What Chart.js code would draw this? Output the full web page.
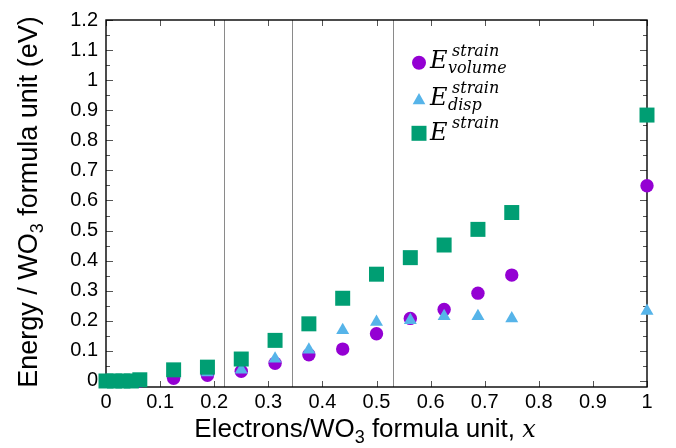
<!DOCTYPE html>
<html>
<head>
<meta charset="utf-8">
<script src="https://cdn.jsdelivr.net/npm/chart.js"></script>
<style>
  body { margin: 0; background: #fff; }
</style>
</head>
<body>
<canvas id="myChart" width="676" height="448"></canvas>
<script>
// electrons per WO3 formula unit
const xValues = [0, 0.015625, 0.03125, 0.046875, 0.0625, 0.125, 0.1875, 0.25, 0.3125, 0.375, 0.4375, 0.5, 0.5625, 0.625, 0.6875, 0.75, 1];
const eVolume = [0, 0, 0, 0, 0, 0.009, 0.019, 0.032, 0.059, 0.087, 0.106, 0.157, 0.208, 0.238, 0.292, 0.352, 0.649];
const eDisp   = [0, 0, 0, 0, 0, 0.027, 0.028, 0.037, 0.074, 0.104, 0.169, 0.196, 0.202, 0.215, 0.215, 0.208, 0.233];
const eTotal  = [0, 0, 0, 0, 0.004, 0.037, 0.046, 0.073, 0.135, 0.19, 0.275, 0.355, 0.41, 0.452, 0.504, 0.56, 0.884];

const xTicks = [0, 0.1, 0.2, 0.3, 0.4, 0.5, 0.6, 0.7, 0.8, 0.9, 1];
const xTickLabels = ['0', '0.1', '0.2', '0.3', '0.4', '0.5', '0.6', '0.7', '0.8', '0.9', '1'];
const yTicks = [0, 0.1, 0.2, 0.3, 0.4, 0.5, 0.6, 0.7, 0.8, 0.9, 1, 1.1, 1.2];
const yTickLabels = ['0', '0.1', '0.2', '0.3', '0.4', '0.5', '0.6', '0.7', '0.8', '0.9', '1', '1.1', '1.2'];
const yMinorTicks = [0.05, 0.15, 0.25, 0.35, 0.45, 0.55, 0.65, 0.75, 0.85, 0.95, 1.05, 1.15];
const phaseLines = [7 / 32, 11 / 32, 17 / 32];

const legendSup = ['strain', 'strain', 'strain'];
const legendSub = ['volume', 'disp', ''];

const purple = '#9400d3';
const blue = '#56b4e9';
const green = '#009e73';

const sans = '"Liberation Sans", Arial, sans-serif';
const serifIt = '"DejaVu Serif", serif';

function toPoints(ys) {
    return xValues.map((x, i) => ({x: x, y: ys[i]}));
}

// draw a run of text pieces, each {t, font, dy}
function textWidth(ctx, parts) {
    let w = 0;
    for (let p of parts) {
        ctx.font = p.font;
        w += ctx.measureText(p.t).width;
    }
    return w;
}
function drawParts(ctx, parts, x, y) {
    for (let p of parts) {
        ctx.font = p.font;
        ctx.fillText(p.t, x, y + (p.dy || 0));
        x += ctx.measureText(p.t).width;
    }
}

const framePlugin = {
    id: 'frame',
    beforeDatasetsDraw(chart) {
        const ctx = chart.ctx;
        const a = chart.chartArea;
        const xs = chart.scales.x, ys = chart.scales.y;
        ctx.save();
        // vertical phase lines
        ctx.strokeStyle = '#8a8a8a';
        ctx.lineWidth = 1;
        for (let v of phaseLines) {
            const px = Math.round(xs.getPixelForValue(v)) + 0.5;
            ctx.beginPath();
            ctx.moveTo(px, a.top);
            ctx.lineTo(px, a.bottom);
            ctx.stroke();
        }
        // inward ticks
        ctx.strokeStyle = '#555';
        ctx.lineWidth = 1;
        ctx.beginPath();
        for (let v of xTicks) {
            const px = Math.round(xs.getPixelForValue(v)) + 0.5;
            ctx.moveTo(px, a.bottom); ctx.lineTo(px, a.bottom - 6);
            ctx.moveTo(px, a.top); ctx.lineTo(px, a.top + 6);
        }
        for (let v of yTicks) {
            const py = Math.round(ys.getPixelForValue(v)) + 0.5;
            ctx.moveTo(a.left, py); ctx.lineTo(a.left + 7, py);
            ctx.moveTo(a.right, py); ctx.lineTo(a.right - 7, py);
        }
        for (let v of yMinorTicks) {
            const py = Math.round(ys.getPixelForValue(v)) + 0.5;
            ctx.moveTo(a.left, py); ctx.lineTo(a.left + 4, py);
            ctx.moveTo(a.right, py); ctx.lineTo(a.right - 4, py);
        }
        ctx.stroke();
        // border
        ctx.strokeStyle = '#000';
        ctx.lineWidth = 1.4;
        ctx.strokeRect(a.left, a.top, a.right - a.left, a.bottom - a.top);
        ctx.restore();
    },
    afterDraw(chart) {
        const ctx = chart.ctx;
        ctx.save();
        ctx.fillStyle = '#000';
        ctx.textBaseline = 'alphabetic';
        ctx.textAlign = 'left';

        // y title
        const yParts = [
            {t: 'Energy / WO', font: '27px ' + sans},
            {t: '3', font: '18px ' + sans, dy: 6},
            {t: ' formula unit (eV)', font: '27px ' + sans}
        ];
        ctx.translate(37, 202);
        ctx.rotate(-Math.PI / 2);
        drawParts(ctx, yParts, -textWidth(ctx, yParts) / 2, 0);
        ctx.setTransform(1, 0, 0, 1, 0, 0);

        // x title
        const xParts = [
            {t: 'Electrons/WO', font: '26px ' + sans},
            {t: '3', font: '18px ' + sans, dy: 6},
            {t: ' formula unit, ', font: '26px ' + sans},
            {t: 'x', font: 'italic 24px ' + serifIt}
        ];
        drawParts(ctx, xParts, 365 - textWidth(ctx, xParts) / 2, 437);

        // legend
        const rowsY = [68, 105, 140];
        const colors = [purple, blue, green];
        for (let i = 0; i < 3; i++) {
            const by = rowsY[i];
            const my = [62.7, 100, 133.3][i];
            ctx.fillStyle = colors[i];
            ctx.beginPath();
            if (i === 0) {
                ctx.arc(419, my, 7, 0, Math.PI * 2);
            } else if (i === 1) {
                ctx.moveTo(419, my - 7);
                ctx.lineTo(419 + 6.3, my + 4.2);
                ctx.lineTo(419 - 6.3, my + 4.2);
                ctx.closePath();
            } else {
                ctx.rect(411.5, my - 7.5, 15, 15);
            }
            ctx.fill();
            ctx.fillStyle = '#000';
            ctx.font = 'italic 24px ' + serifIt;
            ctx.fillText('E', 430, by);
            ctx.font = 'italic 16px ' + serifIt;
            ctx.fillText(legendSup[i], 452, by - 11.6);
            if (legendSub[i]) ctx.fillText(legendSub[i], 448, by + 5);
        }
        ctx.restore();
    }
};

const ctx = document.getElementById('myChart');
new Chart(ctx, {
    type: 'scatter',
    data: {
        datasets: [
            {label: 'volume', data: toPoints(eVolume), pointStyle: 'circle', pointRadius: 6.7,
             backgroundColor: purple, borderColor: purple, borderWidth: 0, order: 3, clip: false},
            {label: 'disp', data: toPoints(eDisp), pointStyle: 'triangle', pointRadius: 7.5,
             backgroundColor: blue, borderColor: blue, borderWidth: 0, order: 2, clip: false},
            {label: 'total', data: toPoints(eTotal), pointStyle: 'rect', pointRadius: 10.6,
             backgroundColor: green, borderColor: green, borderWidth: 0, order: 1, clip: false}
        ]
    },
    options: {
        responsive: false,
        animation: false,
        events: [],
        layout: {padding: {top: 14, right: 29, left: 0, bottom: 0}},
        plugins: {
            legend: {display: false},
            tooltip: {enabled: false}
        },
        scales: {
            x: {
                type: 'linear',
                min: 0, max: 1,
                grid: {display: false, drawTicks: false},
                border: {display: false},
                afterBuildTicks: (scale) => { scale.ticks = xTicks.map(v => ({value: v})); },
                afterFit: (scale) => { scale.height = 61; },
                ticks: {
                    padding: 3,
                    color: '#000',
                    font: {family: sans, size: 20},
                    maxRotation: 0,
                    autoSkip: false,
                    callback: (v, i) => xTickLabels[i]
                }
            },
            y: {
                type: 'linear',
                min: -0.02, max: 1.2,
                grid: {display: false, drawTicks: false},
                border: {display: false},
                afterBuildTicks: (scale) => { scale.ticks = yTicks.map(v => ({value: v})); },
                afterFit: (scale) => { scale.width = 106; },
                ticks: {
                    padding: 8,
                    color: '#000',
                    font: {family: sans, size: 20},
                    autoSkip: false,
                    callback: (v, i) => yTickLabels[i]
                }
            }
        }
    },
    plugins: [framePlugin]
});
</script>
</body>
</html>
